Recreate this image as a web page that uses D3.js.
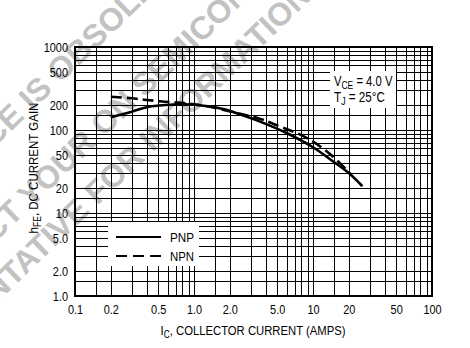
<!DOCTYPE html>
<html><head><meta charset="utf-8">
<script src="https://cdn.jsdelivr.net/npm/d3@7"></script>
<style>
html,body{margin:0;padding:0;background:#fff;}
svg{display:block;}
text{font-family:"Liberation Sans",Arial,sans-serif;fill:#000;}
</style></head><body>
<svg id="chart" width="470" height="348"></svg>
<script>
// DC current gain versus collector current, VCE = 4.0 V, TJ = 25 °C
const pnpCurrent = [0.2, 0.3, 0.4, 0.575, 0.85, 1.25, 1.8, 2.67, 3.5, 6.0, 10, 14.2, 20, 26];
const pnpGain    = [142, 166, 188, 200, 204, 195, 178, 147, 128, 92, 62, 43.5, 30.3, 21];
const npnCurrent = [0.2, 0.3, 0.4, 0.575, 0.85, 1.25, 2.05, 3.5, 4.9, 8.9, 14.2, 21];
const npnGain    = [252, 241, 230, 219, 210, 195, 166, 138, 115, 80, 50, 28.7];

const xTickValues = [0.1, 0.2, 0.5, 1, 2, 5, 10, 20, 50, 100];
const xTickLabels = ["0.1", "0.2", "0.5", "1.0", "2.0", "5.0", "10", "20", "50", "100"];
const yTickValues = [1, 2, 5, 10, 20, 50, 100, 200, 500, 1000];
const yTickLabels = ["1.0", "2.0", "5.0", "10", "20", "50", "100", "200", "500", "1000"];
const gridSteps = [1, 1.5, 2, 3, 4, 5, 6, 7, 8, 9];
const xDecades = [0.1, 1, 10];
const yDecades = [1, 10, 100];

// diagonal notice printed across the sheet
const watermarkLines = [
  {text: "THIS DEVICE IS OBSOLETE", x: -119, y: 257},
  {text: "CONTACT YOUR ON SEMICONDUCTOR", x: -86, y: 321},
  {text: "REPRESENTATIVE FOR INFORMATION", x: -114, y: 410}
];

const m = {left: 75, right: 432, top: 47, bottom: 296};
const svg = d3.select("#chart");

const x = d3.scaleLog().domain([0.1, 100]).range([m.left, m.right]);
const y = d3.scaleLog().domain([1, 1000]).range([m.bottom, m.top]);

// squeeze a single-run text horizontally to a given width (condensed type)
function condense(sel, width) {
  sel.attr("textLength", width).attr("lengthAdjust", "spacingAndGlyphs");
}
// squeeze a composite text (with subscripts) by scaling its wrapper
function squeezeGroup(g, width, anchorX) {
  const inner = g.select("g.inner");
  const w = inner.node().getBBox().width;
  const k = width / w;
  inner.attr("transform", `translate(${anchorX * (1 - k)},0) scale(${k},1)`);
}

// watermark behind the chart
svg.append("g").attr("class", "watermark")
  .selectAll("text").data(watermarkLines).join("text")
  .attr("transform", d => `translate(${d.x},${d.y}) rotate(-44)`)
  .style("font-weight", "bold")
  .style("font-size", "32px")
  .style("fill", "#c2c2c2")
  .text(d => d.text);

// log grid
const xGrid = xDecades.flatMap(d => gridSteps.map(s => d * s)).concat([100]);
const yGrid = yDecades.flatMap(d => gridSteps.map(s => d * s)).concat([1000]);

const grid = svg.append("g").attr("class", "grid")
  .attr("stroke", "#000").attr("stroke-width", 1).attr("shape-rendering", "crispEdges");
grid.selectAll("line.v").data(xGrid).join("line").attr("class", "v")
  .attr("x1", d => Math.round(x(d)) + 0.5).attr("x2", d => Math.round(x(d)) + 0.5)
  .attr("y1", m.top).attr("y2", m.bottom);
grid.selectAll("line.h").data(yGrid).join("line").attr("class", "h")
  .attr("y1", d => Math.round(y(d)) + 0.5).attr("y2", d => Math.round(y(d)) + 0.5)
  .attr("x1", m.left).attr("x2", m.right);

// frame
svg.append("rect")
  .attr("x", m.left).attr("y", m.top)
  .attr("width", m.right - m.left).attr("height", m.bottom - m.top)
  .attr("fill", "none").attr("stroke", "#000").attr("stroke-width", 2);

// axes (labels only; the grid carries the ticks)
const xAxis = svg.append("g").attr("transform", `translate(0,${m.bottom})`)
  .call(d3.axisBottom(x).tickValues(xTickValues)
    .tickFormat((d, i) => xTickLabels[i]).tickSize(0).tickPadding(9));
const yAxis = svg.append("g").attr("transform", `translate(${m.left},0)`)
  .call(d3.axisLeft(y).tickValues(yTickValues)
    .tickFormat((d, i) => yTickLabels[i]).tickSize(0).tickPadding(7));
[xAxis, yAxis].forEach(g => {
  g.select(".domain").remove();
  g.selectAll("text").style("font-size", "13px").style("font-family", null).attr("fill", "#000")
    .each(function () {
      const w = this.getComputedTextLength();
      this.setAttribute("textLength", w * 0.84);
      this.setAttribute("lengthAdjust", "spacingAndGlyphs");
    });
});

// axis titles
const xtG = svg.append("g").attr("transform", "translate(253,335)");
const xt = xtG.append("g").attr("class", "inner").append("text")
  .attr("text-anchor", "middle").style("font-size", "13.5px");
xt.append("tspan").text("I");
xt.append("tspan").attr("dy", 3).style("font-size", "10px").text("C");
xt.append("tspan").attr("dy", -3).text(", COLLECTOR CURRENT (AMPS)");
squeezeGroup(xtG, 185, 0);

const ytG = svg.append("g").attr("transform", "translate(38,168) rotate(-90)");
const yt = ytG.append("g").attr("class", "inner").append("text")
  .attr("text-anchor", "middle").style("font-size", "13.5px");
yt.append("tspan").text("h");
yt.append("tspan").attr("dy", 3).style("font-size", "10px").text("FE");
yt.append("tspan").attr("dy", -3).text(", DC CURRENT GAIN");
squeezeGroup(ytG, 131, 0);

// curves
const line = d3.line().x(d => x(d[0])).y(d => y(d[1])).curve(d3.curveCatmullRom.alpha(0.5));
const pnp = d3.zip(pnpCurrent, pnpGain);
const npn = d3.zip(npnCurrent, npnGain);

svg.append("path").datum(pnp).attr("d", line)
  .attr("fill", "none").attr("stroke", "#000").attr("stroke-width", 2.6);
svg.append("path").datum(npn).attr("d", line)
  .attr("fill", "none").attr("stroke", "#000").attr("stroke-width", 2.6)
  .attr("stroke-dasharray", "11,5");

// legend
const lg = svg.append("g");
lg.append("rect").attr("x", 108).attr("y", 222).attr("width", 91).attr("height", 44).attr("fill", "#fff");
lg.append("line").attr("x1", 116).attr("x2", 161).attr("y1", 237).attr("y2", 237)
  .attr("stroke", "#000").attr("stroke-width", 1.8);
lg.append("line").attr("x1", 116).attr("x2", 161).attr("y1", 256).attr("y2", 256)
  .attr("stroke", "#000").attr("stroke-width", 1.8).attr("stroke-dasharray", "11,6");
lg.append("text").attr("x", 170).attr("y", 242).style("font-size", "13.5px").text("PNP").call(condense, 24);
lg.append("text").attr("x", 170).attr("y", 261).style("font-size", "13.5px").text("NPN").call(condense, 24);

// test conditions
const cond = svg.append("g");
cond.append("rect").attr("x", 330).attr("y", 71).attr("width", 66).attr("height", 37).attr("fill", "#fff");
const c1G = cond.append("g").attr("transform", "translate(0,86)");
const c1 = c1G.append("g").attr("class", "inner").append("text").attr("x", 334).style("font-size", "14px");
c1.append("tspan").text("V");
c1.append("tspan").attr("dy", 2.5).style("font-size", "10.5px").text("CE");
c1.append("tspan").attr("dy", -2.5).text(" = 4.0 V");
squeezeGroup(c1G, 59, 334);
const c2G = cond.append("g").attr("transform", "translate(0,102)");
const c2 = c2G.append("g").attr("class", "inner").append("text").attr("x", 334).style("font-size", "14px");
c2.append("tspan").text("T");
c2.append("tspan").attr("dy", 2.5).style("font-size", "10.5px").text("J");
c2.append("tspan").attr("dy", -2.5).text(" = 25°C");
squeezeGroup(c2G, 51, 334);
</script>
</body></html>
